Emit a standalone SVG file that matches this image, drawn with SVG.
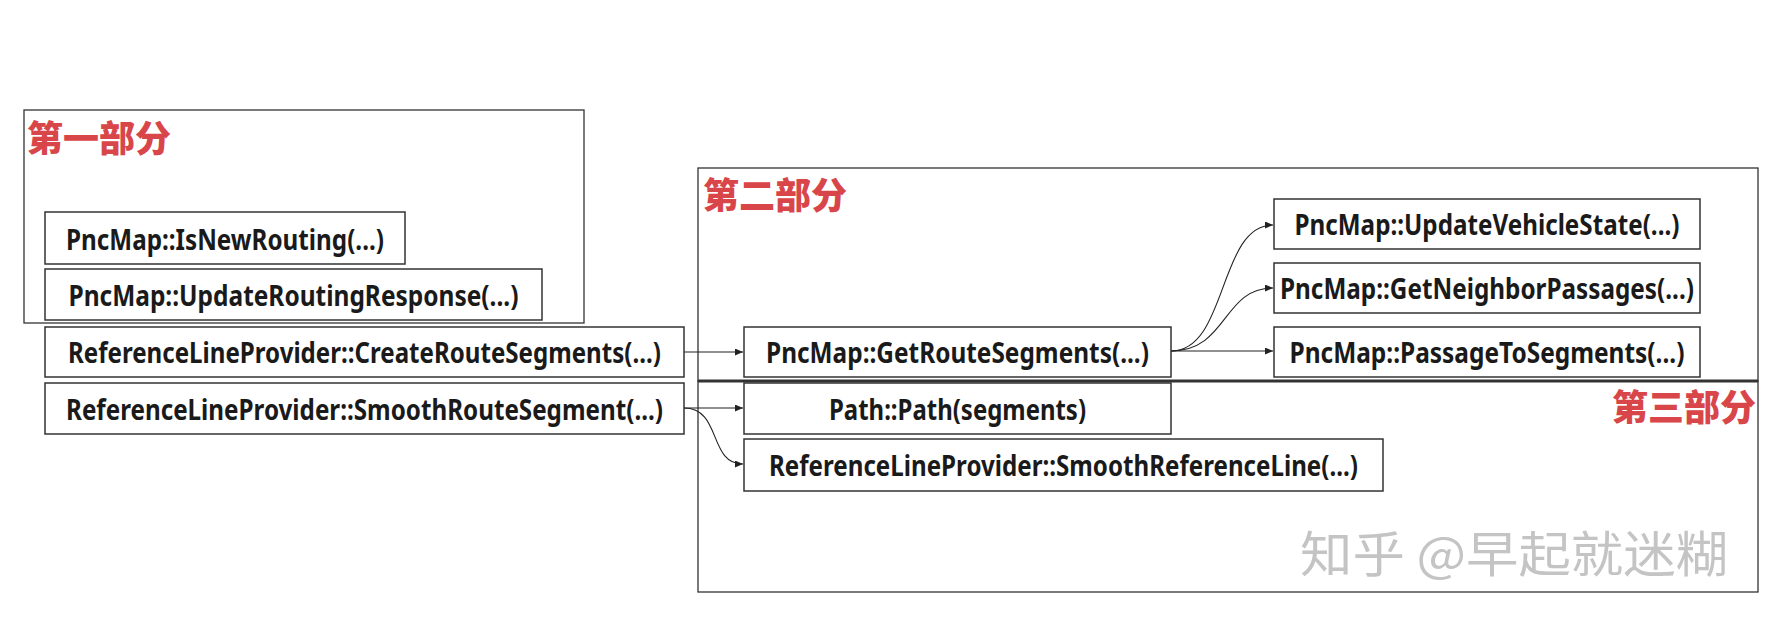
<svg xmlns="http://www.w3.org/2000/svg" width="1775" height="625" viewBox="0 0 1775 625">
  <style>
    .frame { fill: none; stroke: #333333; stroke-width: 1.3; }
    .box { fill: #ffffff; stroke: #333333; stroke-width: 1.5; }
    .lbl { font-family: "Noto Sans", "Open Sans", "Liberation Sans", sans-serif; font-weight: 700; font-size: 29px; fill: #1a1a1a; text-anchor: middle; }
    .title { font-family: "Noto Sans CJK SC", "Noto Sans", sans-serif; font-weight: 900; font-size: 36px; fill: #d94649; }
    .wm { font-family: "Noto Sans CJK SC", "Noto Sans", sans-serif; font-weight: 400; font-size: 49px; fill: #c4c4c4; }
    .conn { fill: none; stroke: #222222; stroke-width: 1.1; }
  </style>
  <defs>
    <marker id="arr" markerUnits="userSpaceOnUse" markerWidth="9" markerHeight="8" refX="8" refY="3.5" orient="auto">
      <path d="M0,0 L8,3.5 L0,7 z" fill="#222222"/>
    </marker>
  </defs>
  <rect width="1775" height="625" fill="#ffffff"/>

  <g id="part1">
    <rect class="frame" x="24" y="110" width="560" height="213"/>
    <text class="title" x="27" y="152">第一部分</text>
  </g>
  <g id="part2">
    <rect class="frame" x="698" y="168" width="1060" height="213"/>
    <text class="title" x="703" y="209">第二部分</text>
  </g>
  <g id="part3">
    <rect class="frame" x="698" y="381" width="1060" height="211"/>
    <line x1="698" y1="381" x2="1758" y2="381" stroke="#333333" stroke-width="3"/>
    <text class="title" x="1612" y="421">第三部分</text>
  </g>

  <g id="connectors">
    <path class="conn" d="M684,352 L743,352" marker-end="url(#arr)"/>
    <path class="conn" d="M684,408 L743,408" marker-end="url(#arr)"/>
    <path class="conn" d="M684,408 C722,408 708,464 743,464" marker-end="url(#arr)"/>
    <path class="conn" d="M1171,351 L1273,351" marker-end="url(#arr)"/>
    <path class="conn" d="M1171,351 C1228,351 1218,225 1273,225" marker-end="url(#arr)"/>
    <path class="conn" d="M1171,351 C1228,351 1222,288 1273,288" marker-end="url(#arr)"/>
  </g>

  <g id="n-isnewrouting">
    <rect class="box" x="45" y="212" width="360" height="52"/>
    <text class="lbl" x="225" y="250" textLength="318" lengthAdjust="spacingAndGlyphs">PncMap::IsNewRouting(...)</text>
  </g>
  <g id="n-updateroutingresponse">
    <rect class="box" x="45" y="269" width="497" height="51"/>
    <text class="lbl" x="293.5" y="306" textLength="450" lengthAdjust="spacingAndGlyphs">PncMap::UpdateRoutingResponse(...)</text>
  </g>
  <g id="n-createroutesegments">
    <rect class="box" x="45" y="327" width="639" height="50"/>
    <text class="lbl" x="364.5" y="363" textLength="593" lengthAdjust="spacingAndGlyphs">ReferenceLineProvider::CreateRouteSegments(...)</text>
  </g>
  <g id="n-smoothroutesegment">
    <rect class="box" x="45" y="383" width="639" height="51"/>
    <text class="lbl" x="364.5" y="420" textLength="597" lengthAdjust="spacingAndGlyphs">ReferenceLineProvider::SmoothRouteSegment(...)</text>
  </g>
  <g id="n-getroutesegments">
    <rect class="box" x="744" y="327" width="427" height="50"/>
    <text class="lbl" x="957.5" y="363" textLength="383" lengthAdjust="spacingAndGlyphs">PncMap::GetRouteSegments(...)</text>
  </g>
  <g id="n-path">
    <rect class="box" x="744" y="383" width="427" height="51"/>
    <text class="lbl" x="957.5" y="420" textLength="257" lengthAdjust="spacingAndGlyphs">Path::Path(segments)</text>
  </g>
  <g id="n-smoothreferenceline">
    <rect class="box" x="744" y="439" width="639" height="52"/>
    <text class="lbl" x="1063.5" y="476" textLength="589" lengthAdjust="spacingAndGlyphs">ReferenceLineProvider::SmoothReferenceLine(...)</text>
  </g>
  <g id="n-updatevehiclestate">
    <rect class="box" x="1274" y="199" width="426" height="50"/>
    <text class="lbl" x="1487" y="235" textLength="385" lengthAdjust="spacingAndGlyphs">PncMap::UpdateVehicleState(...)</text>
  </g>
  <g id="n-getneighborpassages">
    <rect class="box" x="1274" y="263" width="426" height="50"/>
    <text class="lbl" x="1487" y="299" textLength="414" lengthAdjust="spacingAndGlyphs">PncMap::GetNeighborPassages(...)</text>
  </g>
  <g id="n-passagetosegments">
    <rect class="box" x="1274" y="327" width="426" height="50"/>
    <text class="lbl" x="1487" y="363" textLength="395" lengthAdjust="spacingAndGlyphs">PncMap::PassageToSegments(...)</text>
  </g>

  <text class="wm" x="1300" y="572" textLength="428" lengthAdjust="spacingAndGlyphs">知乎 @早起就迷糊</text>
</svg>
